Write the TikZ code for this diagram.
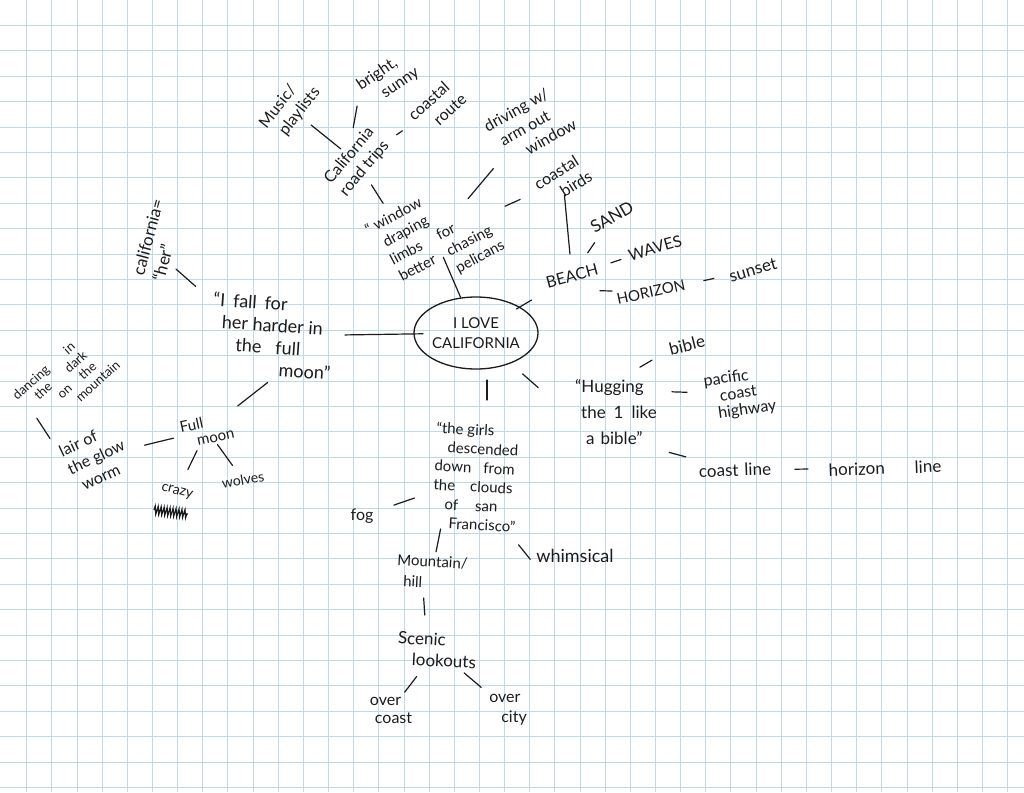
\documentclass[tikz,border=0pt]{standalone}
\usepackage{fontspec}
\setmainfont{Lato}
\usetikzlibrary{shapes.geometric, decorations.pathmorphing}
\definecolor{ink}{HTML}{1C1C1C}
\definecolor{gridblue}{RGB}{192,216,232}
\tikzset{
  scrawl/.style={font=\fontsize{16}{20}\selectfont, text=ink, align=left, inner sep=1pt},
  link/.style={draw=ink, line width=1.2pt, line cap=round},
  gridline/.style={draw=gridblue, line width=0.75pt},
}

\begin{document}
\begin{tikzpicture}[x=1pt, y=-1pt]
\fill[white] (0,0) rectangle (1024,792);
\useasboundingbox (0,0) rectangle (1024,792);
% graph paper
\foreach \i in {1,...,40} \draw[gridline] ({1.5+25.15*\i},0) -- ({1.5+25.15*\i},792);
\foreach \j in {1,...,31} \draw[gridline] (0,{25.4*\j}) -- (1024,{25.4*\j});

% centre bubble
\node[ellipse, draw=ink, line width=1.3pt, minimum width=102pt, minimum height=72pt, inner sep=0pt, align=center, font=\fontsize{15}{20}\selectfont, text=ink] (hub) at (476,333) {I LOVE\\CALIFORNIA};

% road trips, top left
\node[scrawl, rotate=52] (playlists) at (290,108) {Music/\\\hspace{6pt}playlists};
\node[scrawl, rotate=34] (sunny) at (388,79) {bright,\\\hspace{16pt}sunny};
\node[scrawl, rotate=50] (roadtrips) at (357,162) {California\\road trips};
\node[scrawl, rotate=42] (route) at (437,107) {coastal\\\hspace{16pt}route};
\node[scrawl, rotate=29] (driving) at (530,125) {driving w/\\\hspace{7pt}arm out\\\hspace{25pt}window};
\node[scrawl, rotate=32] (birds) at (563,180) {coastal\\\hspace{18pt}birds};
\node[scrawl, rotate=28, font=\fontsize{15}{19}\selectfont] (pelicans) at (435,238) {“ window\\\hspace{10pt}draping\\\hspace{8pt}limbs\hspace{18pt}for\\\hspace{8pt}better\hspace{14pt}chasing\\\hspace{62pt}pelicans};

% beach, top right
\node[scrawl, rotate=15] (beach) at (572,276) {BEACH};
\node[scrawl, rotate=30, font=\fontsize{17}{19}\selectfont] (sand) at (612,217) {SAND};
\node[scrawl, rotate=16] (waves) at (655,248) {WAVES};
\node[scrawl, rotate=12, font=\fontsize{15}{19}\selectfont] (horizon) at (651,292) {HORIZON};
\node[scrawl, rotate=16, font=\fontsize{17}{19}\selectfont] (sunset) at (753,270) {sunset};

% full moon, left
\node[scrawl, rotate=75, font=\fontsize{17}{21}\selectfont] (her) at (158,240) {california=\\“her”};
\node[scrawl, rotate=-4, font=\fontsize{18}{22}\selectfont] (harder) at (272,336) {“I\hspace{8pt}fall\hspace{8pt}for\\\hspace{10pt}her harder in\\\hspace{25pt}the\hspace{14pt}full\\\hspace{70pt}moon”};
\node[scrawl, rotate=12, font=\fontsize{15}{16}\selectfont] (fullmoon) at (207,430) {Full\\\hspace{14pt}moon};
\node[scrawl, rotate=25] (glowworm) at (96,457) {lair of\\the glow\\\hspace{6pt}worm};
\node[scrawl, rotate=42, font=\fontsize{13}{14.5}\selectfont] (dancing) at (66,380) {dancing\hspace{24pt}in\\\hspace{16pt}the\hspace{22pt}dark\\\hspace{34pt}on\hspace{14pt}the\\\hspace{46pt}mountain};
\node[scrawl, rotate=-15, font=\fontsize{14}{16}\selectfont] (crazy) at (177,492) {crazy};
\node[scrawl, rotate=10, font=\fontsize{14}{16}\selectfont] (wolves) at (243,480) {wolves};
\draw[ink, line width=1.2pt, decorate, decoration={zigzag, segment length=3pt, amplitude=4pt}] (154,510) -- (188,514);

% highway 1, right
\node[scrawl, font=\fontsize{17}{26}\selectfont] (hugging) at (616,412) {“Hugging\\\hspace{6pt}the\hspace{8pt}1\hspace{8pt}like\\\hspace{11pt}a\hspace{6pt}bible”};
\node[scrawl, rotate=14, font=\fontsize{17}{20}\selectfont] (bible) at (687,345) {bible};
\node[scrawl, rotate=8, font=\fontsize{16}{17}\selectfont] (pch) at (740,394) {pacific\\\hspace{14pt}coast\\\hspace{10pt}highway};
\node[scrawl, rotate=2, font=\fontsize{17}{20}\selectfont] (coastline) at (735,470) {coast\hspace{6pt}line};
\node[scrawl, rotate=2, font=\fontsize{17}{20}\selectfont] (horizonline) at (885,468) {horizon\hspace{30pt}line};

% san francisco, bottom
\node[scrawl, rotate=-3, font=\fontsize{15}{19}\selectfont] (girls) at (476,477) {“the girls\\\hspace{12pt}descended\\down\hspace{12pt}from\\the\hspace{15pt}clouds\\\hspace{12pt}of\hspace{17pt}san\\\hspace{17pt}Francisco”};
\node[scrawl] (fog) at (362,516) {fog};
\node[scrawl, font=\fontsize{18}{20}\selectfont] (whimsical) at (575,556) {whimsical};
\node[scrawl, rotate=-3, font=\fontsize{15}{21}\selectfont] (hill) at (432,572) {Mountain/\\\hspace{7pt}hill};
\node[scrawl, rotate=-3, font=\fontsize{17}{21}\selectfont] (lookouts) at (437,650) {Scenic\\\hspace{15pt}lookouts};
\node[scrawl, font=\fontsize{16}{18}\selectfont] (overcoast) at (391,710) {over\\\hspace{5pt}coast};
\node[scrawl, font=\fontsize{16}{20}\selectfont] (overcity) at (508,710) {over\\\hspace{12pt}city};

% spokes from the hub
\draw[link, shorten <=39pt, shorten >=21pt] (hub.center) -- (pelicans.center);
\draw[link, shorten <=47pt, shorten >=47pt] (hub.center) -- (beach.center);
\draw[link, shorten <=53pt, shorten >=73pt] (hub.center) -- (harder.center);
\draw[link, shorten <=47pt, shorten >=77pt] ([xshift=11pt]hub.center) -- ([xshift=11pt]girls.center);
\draw[link, shorten <=62pt, shorten >=37pt] (hub.center) -- ([xshift=-50pt]hugging.center);

% road trips
\draw[link, shorten <=27pt, shorten >=21pt] (playlists.center) -- (roadtrips.center);
\draw[link, shorten <=27.5pt, shorten >=35pt] ([xshift=-26pt]sunny.center) -- ([xshift=-10pt]roadtrips.center);
\draw[link, shorten <=48pt, shorten >=42pt] (roadtrips.center) -- (route.center);
\draw[link, shorten <=27pt, shorten >=41pt] (roadtrips.center) -- ([xshift=-30pt]pelicans.center);
\draw[link, shorten <=51.5pt, shorten >=57pt] (pelicans.center) -- (driving.center);
\draw[link, shorten <=77pt, shorten >=47pt] (pelicans.center) -- (birds.center);

% beach
\draw[link, shorten <=15pt, shorten >=22pt] (birds.center) -- (beach.center);
\draw[link, shorten <=28pt, shorten >=31pt] (beach.center) -- (sand.center);
\draw[link, shorten <=41pt, shorten >=36pt] (beach.center) -- (waves.center);
\draw[link, shorten <=28pt, shorten >=39pt] ([yshift=-14pt]beach.center) -- (horizon.center);
\draw[link, shorten <=54pt, shorten >=40pt] (horizon.center) -- (sunset.center);

% full moon
\draw[link, shorten <=44pt, shorten >=75pt] ([xshift=-15pt]her.center) -- ([xshift=-20pt]harder.center);
\draw[link, shorten <=75.6pt, shorten >=39pt] ([xshift=55pt]harder.center) -- (fullmoon.center);
\draw[link, shorten <=34.5pt, shorten >=50pt] (fullmoon.center) -- (glowworm.center);
\draw[link, shorten <=22pt, shorten >=45.5pt] ([xshift=-34pt]glowworm.center) -- ([xshift=-54pt]dancing.center);
\draw[link, shorten <=23pt, shorten >=25pt] (fullmoon.center) -- (crazy.center);
\draw[link, shorten <=18pt, shorten >=18pt] (fullmoon.center) -- (wolves.center);

% highway 1
\draw[link, shorten <=89pt, shorten >=30pt] ([xshift=-53pt]hugging.center) -- ([xshift=-9pt]bible.center);
\draw[link, shorten <=56pt, shorten >=53pt] ([yshift=22pt]hugging.center) -- (pch.center);
\draw[link, shorten <=52pt, shorten >=51pt] ([xshift=3pt,yshift=-27pt]hugging.center) -- (coastline.center);
\draw[link, shorten <=60pt, shorten >=77pt] (coastline.center) -- (horizonline.center);

% san francisco
\draw[link, shorten <=65pt, shorten >=33.6pt] (girls.center) -- (fog.center);
\draw[link, shorten <=53pt, shorten >=20.7pt] ([xshift=-25pt]girls.center) -- (hill.center);
\draw[link, shorten <=87pt, shorten >=6pt] ([xshift=-12pt]girls.center) -- ([xshift=-41pt,yshift=-8pt]whimsical.center);
\draw[link, shorten <=26pt, shorten >=35pt] ([xshift=-10pt]hill.center) -- ([xshift=-10pt]lookouts.center);
\draw[link, shorten <=33.5pt, shorten >=22.5pt] (lookouts.center) -- (overcoast.center);
\draw[link, shorten <=35.5pt, shorten >=35pt] (lookouts.center) -- (overcity.center);
\end{tikzpicture}
\end{document}
